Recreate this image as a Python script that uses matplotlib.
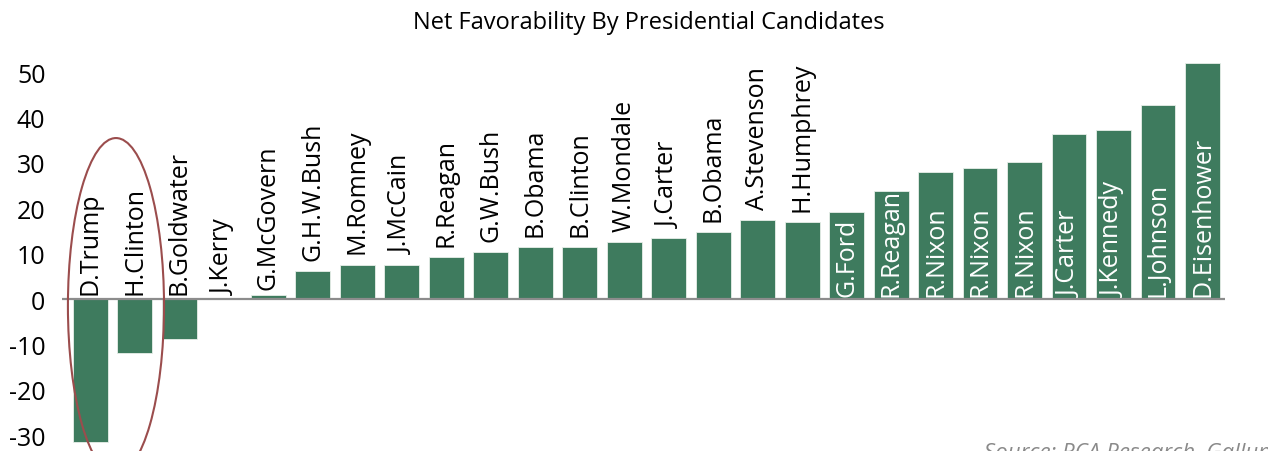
import numpy as np
import matplotlib.pyplot as plt
from matplotlib.patches import Ellipse

candidates = ['D.Trump', 'H.Clinton', 'B.Goldwater', 'J.Kerry', 'G.McGovern', 'G.H.W.Bush',
              'M.Romney', 'J.McCain', 'R.Reagan', 'G.W.Bush', 'B.Obama', 'B.Clinton',
              'W.Mondale', 'J.Carter', 'B.Obama', 'A.Stevenson', 'H.Humphrey', 'G.Ford',
              'R.Reagan', 'R.Nixon', 'R.Nixon', 'R.Nixon', 'J.Carter', 'J.Kennedy',
              'L.Johnson', 'D.Eisenhower']
net_fav = [-31.5, -11.8, -8.9, 0, 0.9, 6.2, 7.6, 7.6, 9.3, 10.4, 11.5, 11.5, 12.6, 13.5,
           14.7, 17.5, 17.0, 19.3, 23.9, 28.0, 28.9, 30.2, 36.3, 37.3, 42.8, 52.1]

green = '#3e7b5e'
plt.rcParams['font.family'] = ['Open Sans', 'DejaVu Sans']
plt.rcParams['axes.unicode_minus'] = False

fig = plt.figure(figsize=(12.68, 4.52), dpi=100)
ax = fig.add_axes([0.049, 0.0, 0.917, 0.878])
x = np.arange(len(candidates))
ax.bar(x, net_fav, width=0.78, color=green, edgecolor='#e8efe9', linewidth=0.6, zorder=2)
ax.axhline(0, color='#8c8c8c', linewidth=1.6, zorder=3)

for i, (name, v) in enumerate(zip(candidates, net_fav)):
    if v > 18:
        ax.annotate(name, (i, 0), xytext=(0, 2), textcoords='offset points',
                    rotation=90, ha='center', va='bottom', color='white', fontsize=18, zorder=4)
    else:
        ax.annotate(name, (i, max(v, 0)), xytext=(0, 4 if v <= 1 else 8), textcoords='offset points',
                    rotation=90, ha='center', va='bottom', color='black', fontsize=18, zorder=4)

ax.add_patch(Ellipse((0.58, -1.5), 2.16, 74, fill=False, edgecolor='#9b4d4d', linewidth=1.5, zorder=5))

ax.set_xlim(-0.63, 25.5)
ax.set_ylim(-33.5, 54)
ax.set_yticks([-30, -20, -10, 0, 10, 20, 30, 40, 50])
ax.set_xticks([])
ax.tick_params(axis='y', length=0, labelsize=18, pad=12)
for s in ax.spines.values():
    s.set_visible(False)

fig.text(0.512, 0.95, 'Net Favorability By Presidential Candidates', ha='center', va='center', fontsize=17)
fig.text(0.776, 0.02, 'Source: RCA Research, Gallup', ha='left', va='top', fontsize=16,
         style='italic', color='#8a8a8a')

plt.savefig('out.png', dpi=100)
